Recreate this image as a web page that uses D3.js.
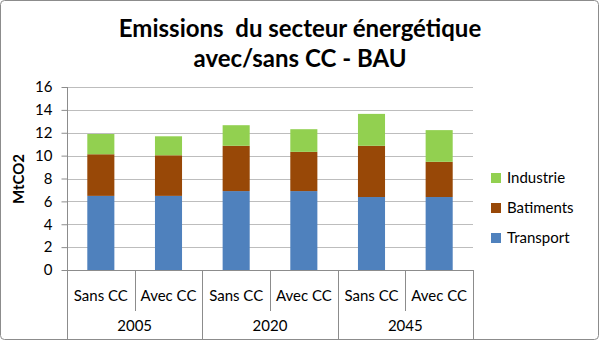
<!DOCTYPE html>
<html><head><meta charset="utf-8">
<script src="https://cdn.jsdelivr.net/npm/d3@7"></script>
<style>body{margin:0;background:#fff;} svg{display:block;}</style>
</head><body>
<svg id="c" width="600" height="342"></svg>
<script>
const years = ["2005","2020","2045"];
const scenarios = ["Sans CC","Avec CC"];
const seriesNames = ["Transport","Batiments","Industrie"];
const transport = [6.48, 6.48, 6.9, 6.9, 6.38, 6.38];
const batiments = [3.64, 3.55, 3.96, 3.43, 4.48, 3.08];
const industrie = [1.77, 1.66, 1.80, 1.98, 2.79, 2.77];
const yTicks = [0,2,4,6,8,10,12,14,16];
const colors = {Transport:"#4f81bd", Batiments:"#984807", Industrie:"#92d050"};
const font = "Lato, 'Open Sans', sans-serif";

const cats = [];
years.forEach(y => scenarios.forEach(s => cats.push(y + "|" + s)));
const rows = cats.map((c,i)=>({cat:c, Transport:transport[i], Batiments:batiments[i], Industrie:industrie[i]}));

const svg = d3.select("#c");
svg.append("rect").attr("x",0.5).attr("y",0.5).attr("width",598).attr("height",339)
  .attr("rx",4).attr("fill","#fff").attr("stroke","#8c8c8c");

const pL = 67, pR = 473, pT = 87, pB = 270;
const x = d3.scaleBand().domain(cats).range([pL,pR]).paddingInner(0.6).paddingOuter(0.3);
const xs = d3.scaleBand().domain(cats).range([pL,pR]);
const y = d3.scaleLinear().domain([0,16]).range([pB,pT]);

// gridlines
svg.append("g").selectAll("line").data(yTicks.filter(d=>d>0)).join("line")
  .attr("x1",pL).attr("x2",pR).attr("y1",d=>Math.round(y(d))+0.5).attr("y2",d=>Math.round(y(d))+0.5)
  .attr("stroke","#bdbdbd").attr("stroke-width",1);

// y axis
const ya = svg.append("g").attr("transform",`translate(${pL+0.5},0)`)
  .call(d3.axisLeft(y).tickValues(yTicks).tickSize(6).tickPadding(9).tickFormat(d3.format("d")));
ya.select(".domain").attr("stroke","#8c8c8c").attr("d",`M0,${pT}V${pB}`);
ya.selectAll(".tick line").attr("stroke","#8c8c8c");
ya.selectAll("text").attr("font-family",font).attr("font-size",15).attr("fill","#000");

// stacked bars
const stack = d3.stack().keys(seriesNames)(rows);
svg.append("g").selectAll("g").data(stack).join("g").attr("fill",d=>colors[d.key])
  .selectAll("rect").data(d=>d).join("rect")
  .attr("x",d=>x(d.data.cat)).attr("width",x.bandwidth())
  .attr("y",d=>y(d[1])).attr("height",d=>y(d[0])-y(d[1]));

// x axis baseline
svg.append("line").attr("x1",pL).attr("x2",pR).attr("y1",pB+0.5).attr("y2",pB+0.5).attr("stroke","#8c8c8c");
// separators
cats.forEach((c,i)=>{
  const xx = Math.round(xs(c))+0.5;
  const isGroup = i % 2 === 0;
  svg.append("line").attr("x1",xx).attr("x2",xx).attr("y1",pB).attr("y2",isGroup?339:311).attr("stroke","#8c8c8c");
});
svg.append("line").attr("x1",pR+0.5).attr("x2",pR+0.5).attr("y1",pB).attr("y2",339).attr("stroke","#8c8c8c");

// category labels
svg.append("g").selectAll("text").data(cats).join("text")
  .attr("x",d=>xs(d)+xs.bandwidth()/2).attr("y",301).attr("text-anchor","middle")
  .attr("font-family",font).attr("font-size",15).text(d=>d.split("|")[1]);
// year labels
const gw = (pR-pL)/years.length;
svg.append("g").selectAll("text").data(years).join("text")
  .attr("x",(d,i)=>pL+gw*i+gw/2).attr("y",331).attr("text-anchor","middle")
  .attr("font-family",font).attr("font-size",15).text(d=>d);

// y label
svg.append("text").attr("transform","translate(24,179) rotate(-90)").attr("text-anchor","middle")
  .attr("font-family",font).attr("font-size",15).attr("font-weight","bold").text("MtCO2");

// title
const t = svg.append("text").attr("text-anchor","middle").attr("font-family",font)
  .attr("font-size",24).attr("font-weight","bold").style("white-space","pre");
t.append("tspan").attr("x",300).attr("y",37).text("Emissions  du secteur énergétique");
t.append("tspan").attr("x",300).attr("y",67).text("avec/sans CC - BAU");

// legend
const leg = ["Industrie","Batiments","Transport"];
const lg = svg.append("g").selectAll("g").data(leg).join("g")
  .attr("transform",(d,i)=>`translate(491,${173+i*30})`);
lg.append("rect").attr("width",10).attr("height",10).attr("fill",d=>colors[d]);
lg.append("text").attr("x",16).attr("y",10).attr("font-family",font).attr("font-size",15).text(d=>d);
</script>
</body></html>
